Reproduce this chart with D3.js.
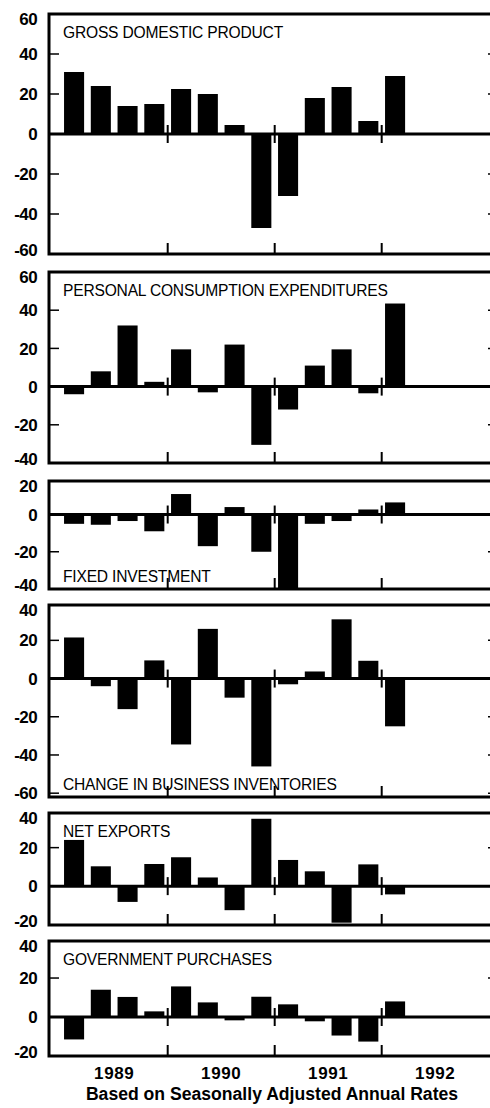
<!DOCTYPE html>
<html>
<head>
<meta charset="utf-8">
<script src="https://cdn.jsdelivr.net/npm/d3@7"></script>
<style>
  html, body { margin: 0; padding: 0; background: #fff; }
  svg text { font-family: "Liberation Sans", Arial, Helvetica, sans-serif; fill: #000; }
  .title { font-size: 15.6px; letter-spacing: -0.2px; }
  .ylab { font-size: 17px; font-weight: bold; letter-spacing: -0.6px; }
  .year { font-size: 17px; font-weight: bold; letter-spacing: 0.6px; }
  .note { font-size: 17.6px; font-weight: bold; letter-spacing: 0px; }
</style>
</head>
<body>
<svg id="chart" width="490" height="1108"></svg>
<script>
// quarters shown (1989 Q1 .. 1992 Q1)
var years = ["1989", "1990", "1991", "1992"];
var allQuarters = [];
years.forEach(function(y) { [1, 2, 3, 4].forEach(function(q) { allQuarters.push(y + "Q" + q); }); });
var quarters = allQuarters.slice(0, 13);

var titles = ["GROSS DOMESTIC PRODUCT", "PERSONAL CONSUMPTION EXPENDITURES", "FIXED INVESTMENT",
              "CHANGE IN BUSINESS INVENTORIES", "NET EXPORTS", "GOVERNMENT PURCHASES"];

var gdp         = [31, 24, 14, 15, 22.5, 20, 4.5, -47, -31, 18, 23.5, 6.5, 29];
var consumption = [-4, 8, 32, 2.5, 19.5, -3, 22, -30.5, -12, 11, 19.5, -3.5, 43.5];
var investment  = [-5, -5.5, -3.5, -9, 11, -17, 4, -20, -40, -5, -3.5, 2.7, 6.5];
var inventories = [21.5, -4, -16, 9.5, -34.5, 26, -10, -46, -3, 3.7, 31, 9.3, -25];
var netExports  = [24, 10.3, -8.2, 11.5, 15, 4.5, -12.5, 35, 13.6, 7.7, -19, 11.3, -4.3];
var government  = [-11.5, 14, 10.3, 2.9, 15.7, 7.5, -1.7, 10.4, 6.5, -2.2, -9.5, -12.6, 8];

var tickLabels = [
  [60, 40, 20, 0, -20, -40, -60],
  [60, 40, 20, 0, -20, -40],
  [20, 0, -20, -40],
  [40, 20, 0, -20, -40, -60],
  [40, 20, 0, -20],
  [40, 20, 0, -20]
];

var series = [gdp, consumption, investment, inventories, netExports, government];

// layout of the six stacked panels
var panels = [
  { top: 14,  bottom: 254,  domain: [-60, 60],   titleAt: "top" },
  { top: 272, bottom: 463,  domain: [-40, 60],   titleAt: "top" },
  { top: 481, bottom: 589,  domain: [-40, 18],   titleAt: "bottom" },
  { top: 605, bottom: 797,  domain: [-62, 38.5], titleAt: "bottom" },
  { top: 813, bottom: 925,  domain: [-20.2, 38], titleAt: "top" },
  { top: 941, bottom: 1056, domain: [-20, 39],   titleAt: "top" }
];

var svg = d3.select("#chart");
var left = 49, right = 493;

var x = d3.scaleBand()
    .domain(allQuarters)
    .range([60.7, 488.7])
    .paddingInner(0.25)
    .paddingOuter(0.125);

var pad = x.step() * 0.125;
function yearStart(y) { return x(y + "Q1") - pad; }
function yearMid(y) { return (x(y + "Q1") - pad + x(y + "Q4") + x.bandwidth() + pad) / 2; }

panels.forEach(function(p, i) {
    var y = d3.scaleLinear().domain(p.domain).range([p.bottom, p.top]);
    var g = svg.append("g");
    var data = series[i].map(function(v, k) { return { q: quarters[k], v: v }; });

    // bars
    g.selectAll("rect.bar")
        .data(data)
        .enter().append("rect")
        .attr("class", "bar")
        .attr("x", function(d) { return x(d.q); })
        .attr("width", x.bandwidth())
        .attr("y", function(d) { return y(Math.max(0, d.v)); })
        .attr("height", function(d) { return Math.abs(y(d.v) - y(0)); })
        .attr("fill", "#000");

    // zero line
    g.append("line")
        .attr("x1", left).attr("x2", right)
        .attr("y1", y(0)).attr("y2", y(0))
        .attr("stroke", "#000").attr("stroke-width", 3);

    // frame
    g.append("rect")
        .attr("x", left).attr("y", p.top)
        .attr("width", right - left).attr("height", p.bottom - p.top)
        .attr("fill", "none").attr("stroke", "#000").attr("stroke-width", 3);

    // inner value ticks (left and right)
    var inner = tickLabels[i].filter(function(v) {
        return v !== 0 && y(v) > p.top + 3 && y(v) < p.bottom - 3;
    });
    g.selectAll("line.ltick").data(inner).enter().append("line")
        .attr("x1", left).attr("x2", left + 10)
        .attr("y1", function(v) { return y(v); }).attr("y2", function(v) { return y(v); })
        .attr("stroke", "#000").attr("stroke-width", 1.5);
    g.selectAll("line.rtick").data(inner).enter().append("line")
        .attr("x1", right - 5).attr("x2", right)
        .attr("y1", function(v) { return y(v); }).attr("y2", function(v) { return y(v); })
        .attr("stroke", "#000").attr("stroke-width", 1.5);

    // year dividers: across zero line and up from the bottom
    var dividers = years.slice(1);
    g.selectAll("line.zdiv").data(dividers).enter().append("line")
        .attr("x1", yearStart).attr("x2", yearStart)
        .attr("y1", y(0) - 9).attr("y2", y(0) + 9)
        .attr("stroke", "#000").attr("stroke-width", 2);
    g.selectAll("line.bdiv").data(dividers).enter().append("line")
        .attr("x1", yearStart).attr("x2", yearStart)
        .attr("y1", p.bottom - 11).attr("y2", p.bottom)
        .attr("stroke", "#000").attr("stroke-width", 2);

    // value labels at left
    g.selectAll("text.ylab").data(tickLabels[i]).enter().append("text")
        .attr("class", "ylab")
        .attr("x", 37)
        .attr("y", function(v) { return Math.min(p.bottom - 4, Math.max(p.top + 5, y(v))); })
        .attr("dy", "0.36em")
        .attr("text-anchor", "end")
        .text(function(v) { return v; });

    // panel title
    g.append("text")
        .attr("class", "title")
        .attr("x", 63)
        .attr("y", p.titleAt === "top" ? p.top + 24 : p.bottom - 7)
        .text(titles[i]);
});

// year labels
svg.selectAll("text.year").data(years).enter().append("text")
    .attr("class", "year")
    .attr("x", yearMid)
    .attr("y", 1079)
    .attr("text-anchor", "middle")
    .text(function(d) { return d; });

svg.append("text")
    .attr("class", "note")
    .attr("x", 272)
    .attr("y", 1100)
    .attr("text-anchor", "middle")
    .text("Based on Seasonally Adjusted Annual Rates");
</script>
</body>
</html>
